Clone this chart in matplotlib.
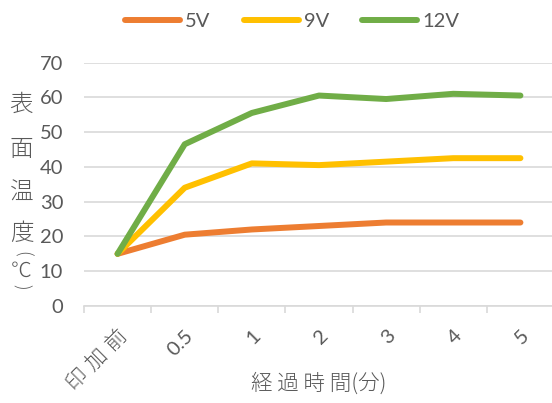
import matplotlib
matplotlib.use("Agg")
import matplotlib.pyplot as plt

plt.rcParams['font.family'] = ['Lato', 'Noto Sans CJK JP', 'DejaVu Sans']

# データ
categories = ['印加前', '0.5', '1', '2', '3', '4', '5']
v5 = [15, 20.5, 22, 23, 24, 24, 24]
v9 = [15, 34, 41, 40.5, 41.5, 42.5, 42.5]
v12 = [15, 46.5, 55.5, 60.5, 59.5, 61, 60.5]
series_names = ['5V', '9V', '12V']
yticks = [0, 10, 20, 30, 40, 50, 60, 70]
ylabel_chars = ['表', '面', '温', '度', '(', '℃', ')']

txt = '#595959'
colors = ['#ED7D31', '#FFC000', '#70AD47']

fig = plt.figure(figsize=(5.52, 4.03), dpi=100)
ax = fig.add_axes([84/552, 1 - 306/403, 470/552, 243.5/403])

x = range(len(categories))
for vals, name, c in zip([v5, v9, v12], series_names, colors):
    ax.plot(x, vals, color=c, lw=4.3, label=name, solid_capstyle='round', solid_joinstyle='round')

ax.set_ylim(0, 70)
ax.set_xlim(-0.5, len(categories) - 0.5)
ax.set_yticks(yticks)
ax.yaxis.grid(True, color='#D9D9D9', lw=1.2)
ax.set_axisbelow(True)
for s in ['top', 'right', 'left']:
    ax.spines[s].set_visible(False)
ax.spines['bottom'].set_color('#D9D9D9')
ax.spines['bottom'].set_linewidth(1.2)

# 目盛り: 区切りに線、ラベルは中央
ax.set_xticks([i - 0.5 for i in x], minor=True)
ax.set_xticks(list(x))
shown = [c if c.isascii() else ' '.join(c) for c in categories]  # 漢字は字間を空ける
ax.set_xticklabels(shown, rotation=45, ha='right', rotation_mode='anchor', fontsize=14.5, color=txt)
for lab, c in zip(ax.get_xticklabels(), categories):
    if not c.isascii():
        lab.set_fontsize(15.5)
        lab.set_fontweight('light')
ax.tick_params(axis='x', which='major', length=0, pad=15)
ax.tick_params(axis='x', which='minor', length=5, color='#D9D9D9', width=1.2)
ax.tick_params(axis='y', length=0, pad=15, labelsize=14.5, labelcolor=txt)

ax.set_xlabel('経 過 時 間(分)', fontsize=15.5, color=txt, family=['Noto Sans CJK JP'], fontweight='light')
ax.xaxis.set_label_coords(0.5, (306 - 372) / 243.5)

# 縦書きの軸ラベル（括弧は回転）
ys = [104, 150, 193, 233, 254, 271, 287]
for ch, yy in zip(ylabel_chars, ys):
    rot = -90 if ch in '()' else 0
    fs = {'(': 13, ')': 13, '℃': 15}.get(ch, 17)
    fig.text(21.5/552, 1 - yy/403, ch, fontsize=fs, color=txt, rotation=rot, fontweight='light',
             ha='center', va='center', family=['Noto Sans CJK JP'])

fig.legend(loc='center', bbox_to_anchor=(292/552, 1 - 21/403), ncol=3, frameon=False,
           fontsize=14.5, labelcolor=txt, handlelength=2.73, handletextpad=0.25, columnspacing=1.64)

plt.savefig('out.png', dpi=100)
